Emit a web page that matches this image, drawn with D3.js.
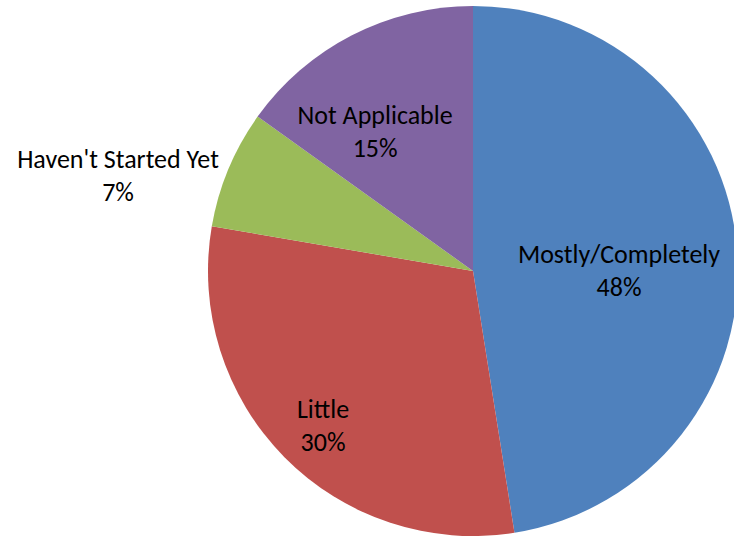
<!DOCTYPE html>
<html>
<head>
<meta charset="utf-8">
<script src="https://cdn.jsdelivr.net/npm/d3@7"></script>
<style>
  html, body { margin: 0; padding: 0; background: #fff; }
  svg { display: block; }
  text { font-family: Carlito, Lato, "Open Sans", sans-serif; fill: #000; }
</style>
</head>
<body>
<svg id="chart" width="734" height="537"></svg>
<script>
// Data (clockwise from 12 o'clock)
const categories = ["Mostly/Completely", "Little", "Haven't Started Yet", "Not Applicable"];
const values = [47.5, 30.2, 7.2, 15.1];
const percentLabels = ["48%", "30%", "7%", "15%"];
const colors = ["#4F81BD", "#C0504D", "#9BBB59", "#8064A2"];

// Label placement (polar: angle in degrees clockwise from top, radius in px)
const labelAngles = [90.4, 223.7, 284.7, 324.6];
const labelRadii = [146, 217, 367, 169];

const width = 734, height = 537;
const cx = 473, cy = 271, radius = 265;

const svg = d3.select("#chart");
const g = svg.append("g").attr("transform", `translate(${cx},${cy})`);

const pie = d3.pie().sort(null).value(d => d.value);
const arc = d3.arc().innerRadius(0).outerRadius(radius);

const data = categories.map((c, i) => ({ name: c, value: values[i], pct: percentLabels[i], color: colors[i] }));
const arcs = pie(data);

g.selectAll("path.slice")
  .data(arcs)
  .join("path")
  .attr("class", "slice")
  .attr("d", arc)
  .attr("fill", d => d.data.color);

const fontSize = 26, lineGap = 33;
const labels = g.selectAll("g.label")
  .data(arcs)
  .join("g")
  .attr("class", "label")
  .attr("transform", (d, i) => {
    const a = labelAngles[i] * Math.PI / 180;
    return `translate(${labelRadii[i] * Math.sin(a)},${-labelRadii[i] * Math.cos(a)})`;
  });

labels.append("text")
  .attr("text-anchor", "middle")
  .attr("dominant-baseline", "central")
  .attr("y", -lineGap / 2 - 2)
  .style("font-size", fontSize + "px")
  .text(d => d.data.name);

labels.append("text")
  .attr("text-anchor", "middle")
  .attr("dominant-baseline", "central")
  .attr("y", lineGap / 2 - 2)
  .style("font-size", fontSize + "px")
  .text(d => d.data.pct);
</script>
</body>
</html>
